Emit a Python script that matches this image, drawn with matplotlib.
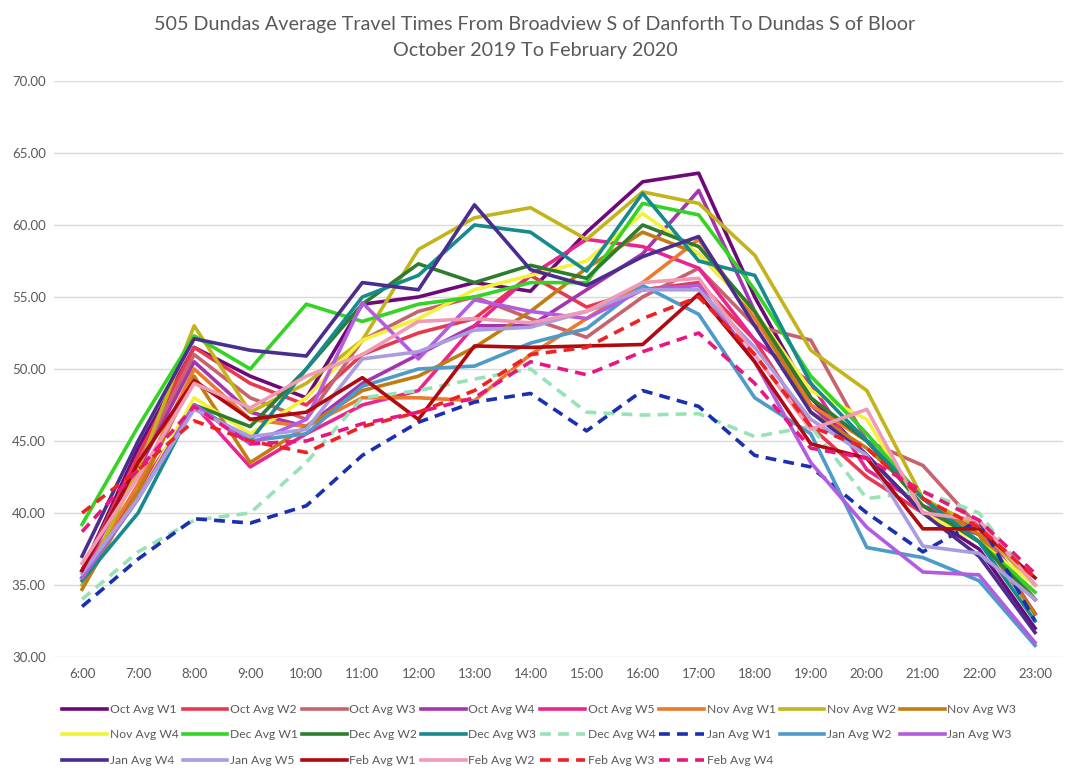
import matplotlib
matplotlib.use('Agg')
import matplotlib.pyplot as plt
import numpy as np

plt.rcParams['font.family'] = ['Lato', 'DejaVu Sans']

hours = ['6:00', '7:00', '8:00', '9:00', '10:00', '11:00', '12:00', '13:00', '14:00',
         '15:00', '16:00', '17:00', '18:00', '19:00', '20:00', '21:00', '22:00', '23:00']

# 每周平均行程时间（分钟）
oct_w1 = [36.0, 44.5, 51.5, 49.5, 48.0, 54.5, 55.0, 56.0, 55.4, 59.5, 63.0, 63.6, 55.0, 48.0, 44.0, 40.0, 37.5, 32.0]
oct_w2 = [36.0, 44.0, 51.5, 49.0, 47.5, 51.0, 52.5, 53.5, 56.5, 54.3, 55.5, 56.0, 52.0, 46.0, 42.5, 40.0, 39.0, 33.0]
oct_w3 = [36.0, 43.5, 51.0, 48.0, 46.5, 52.0, 54.0, 55.0, 53.5, 52.2, 55.0, 57.0, 53.0, 52.0, 45.0, 43.3, 39.0, 34.0]
oct_w4 = [36.0, 43.0, 50.5, 47.0, 46.0, 49.0, 51.0, 53.0, 53.0, 55.5, 58.0, 62.4, 54.0, 47.5, 44.0, 40.0, 38.5, 33.0]
oct_w5 = [36.0, 41.5, 47.5, 43.2, 45.5, 47.5, 48.5, 53.0, 56.5, 59.0, 58.5, 57.0, 52.0, 49.0, 43.0, 40.5, 39.0, 35.0]
nov_w1 = [35.5, 42.0, 50.0, 46.5, 46.0, 48.0, 48.0, 47.8, 51.0, 53.5, 56.0, 59.0, 53.5, 47.5, 45.0, 41.0, 38.5, 34.0]
nov_w2 = [35.0, 43.0, 53.0, 47.0, 49.0, 52.0, 58.3, 60.5, 61.2, 59.0, 62.3, 61.5, 57.9, 51.3, 48.5, 41.0, 39.0, 35.0]
nov_w3 = [34.7, 41.5, 49.5, 43.5, 46.0, 48.5, 49.5, 51.5, 54.0, 57.0, 59.5, 58.0, 54.0, 47.0, 44.5, 41.0, 38.5, 33.0]
nov_w4 = [35.5, 41.0, 48.0, 45.5, 48.0, 52.0, 53.5, 55.5, 56.5, 57.5, 60.8, 58.0, 54.0, 48.5, 46.5, 40.0, 38.0, 35.0]
dec_w1 = [39.2, 46.0, 52.3, 50.0, 54.5, 53.3, 54.5, 55.0, 56.0, 56.0, 61.5, 60.7, 55.5, 49.5, 45.5, 41.0, 38.0, 34.5]
dec_w2 = [35.5, 41.0, 47.5, 46.0, 50.0, 54.5, 57.3, 56.0, 57.2, 56.3, 60.0, 58.5, 54.0, 48.0, 45.0, 40.5, 38.0, 34.0]
dec_w3 = [35.3, 40.0, 47.5, 45.0, 50.0, 55.0, 56.5, 60.0, 59.5, 56.8, 62.2, 57.5, 56.5, 49.0, 45.0, 41.0, 38.0, 32.5]
dec_w4 = [34.0, 37.3, 39.5, 40.0, 43.5, 48.0, 48.5, 49.3, 50.0, 47.0, 46.8, 46.9, 45.3, 46.0, 41.0, 41.5, 40.0, 35.0]
jan_w1 = [33.5, 36.8, 39.6, 39.3, 40.5, 44.0, 46.3, 47.7, 48.3, 45.7, 48.5, 47.4, 44.0, 43.2, 40.0, 37.3, 39.5, 32.5]
jan_w2 = [35.5, 41.0, 47.5, 45.0, 45.5, 48.8, 50.0, 50.2, 51.8, 52.8, 55.8, 53.8, 48.0, 45.5, 37.6, 36.9, 35.3, 30.8]
jan_w3 = [35.5, 41.0, 47.5, 44.8, 46.5, 54.6, 50.7, 54.8, 54.0, 53.5, 55.5, 55.8, 50.5, 43.5, 39.0, 35.9, 35.7, 31.0]
jan_w4 = [37.0, 45.0, 52.1, 51.3, 50.9, 56.0, 55.5, 61.4, 56.9, 55.8, 57.8, 59.2, 53.0, 47.0, 44.0, 40.0, 37.0, 31.7]
jan_w5 = [35.8, 41.0, 47.2, 45.3, 45.8, 50.7, 51.2, 52.7, 52.9, 54.0, 55.5, 55.5, 51.5, 46.5, 44.0, 37.7, 37.2, 34.0]
feb_w1 = [36.0, 43.5, 49.2, 46.5, 47.0, 49.4, 46.5, 51.6, 51.5, 51.6, 51.7, 55.2, 50.5, 44.8, 43.8, 38.9, 38.9, 35.5]
feb_w2 = [36.5, 42.5, 49.0, 47.3, 49.5, 51.0, 53.3, 53.5, 53.2, 54.0, 56.0, 56.3, 51.0, 45.8, 47.2, 40.0, 39.5, 35.0]
feb_w3 = [40.0, 43.0, 46.4, 45.0, 44.2, 46.0, 47.0, 48.5, 51.0, 51.5, 53.5, 55.0, 51.0, 46.0, 44.5, 41.0, 39.0, 35.5]
feb_w4 = [38.7, 43.0, 47.4, 44.8, 45.0, 46.2, 47.0, 48.0, 50.5, 49.6, 51.2, 52.5, 49.0, 44.5, 43.8, 41.5, 39.5, 35.8]

series = [
    ('Oct Avg W1', oct_w1, '#6E0A78', '-'),
    ('Oct Avg W2', oct_w2, '#E8384F', '-'),
    ('Oct Avg W3', oct_w3, '#C8626E', '-'),
    ('Oct Avg W4', oct_w4, '#A535AF', '-'),
    ('Oct Avg W5', oct_w5, '#E9268F', '-'),
    ('Nov Avg W1', nov_w1, '#EB7A2B', '-'),
    ('Nov Avg W2', nov_w2, '#C4B41C', '-'),
    ('Nov Avg W3', nov_w3, '#C17D11', '-'),
    ('Nov Avg W4', nov_w4, '#F2F23A', '-'),
    ('Dec Avg W1', dec_w1, '#34D324', '-'),
    ('Dec Avg W2', dec_w2, '#2D7D2E', '-'),
    ('Dec Avg W3', dec_w3, '#168A8C', '-'),
    ('Dec Avg W4', dec_w4, '#98E3B5', '--'),
    ('Jan Avg W1', jan_w1, '#1A30B0', '--'),
    ('Jan Avg W2', jan_w2, '#4E9AC9', '-'),
    ('Jan Avg W3', jan_w3, '#B45CE0', '-'),
    ('Jan Avg W4', jan_w4, '#4A2D8E', '-'),
    ('Jan Avg W5', jan_w5, '#AA9CDF', '-'),
    ('Feb Avg W1', feb_w1, '#B00A10', '-'),
    ('Feb Avg W2', feb_w2, '#EF9AB6', '-'),
    ('Feb Avg W3', feb_w3, '#EE2222', '--'),
    ('Feb Avg W4', feb_w4, '#E8177F', '--'),
]

fig = plt.figure(figsize=(10.7, 7.81), dpi=100)
ax = fig.add_axes([0.0505, 0.1588, 0.943, 0.7375])

x = np.arange(len(hours))
handles = []
for name, vals, color, ls in series:
    if ls == '--':
        ln, = ax.plot(x, vals, color=color, lw=2.6, label=name, dashes=(3, 2))
    else:
        ln, = ax.plot(x, vals, color=color, lw=2.6, label=name)
    handles.append(ln)

ax.set_xlim(-0.5, len(hours) - 0.5)
ax.set_ylim(30, 70)
ax.set_yticks(np.arange(30, 71, 5))
ax.set_yticklabels([f'{v:.2f}' for v in np.arange(30, 71, 5)])
ax.set_xticks(x)
ax.set_xticklabels(hours)
ax.tick_params(axis='both', length=0, labelsize=9.5, colors='#595959')
ax.tick_params(axis='x', pad=8)
ax.tick_params(axis='y', pad=6)
ax.grid(True, axis='y', color='#D9D9D9', lw=1)
ax.set_axisbelow(True)
for s in ax.spines.values():
    s.set_visible(False)

fig.text(0.5, 0.968, '505 Dundas Average Travel Times From Broadview S of Danforth To Dundas S of Bloor',
         ha='center', va='center', fontsize=14.2, color='#595959')
fig.text(0.5, 0.935, 'October 2019 To February 2020',
         ha='center', va='center', fontsize=14.2, color='#595959')

# 图例按行排列（8列）
ncol = 8
order = []
for c in range(ncol):
    for r in range(3):
        i = r * ncol + c
        if i < len(handles):
            order.append(i)
leg = fig.legend([handles[i] for i in order], [series[i][0] for i in order],
                 loc='center', bbox_to_anchor=(0.504, 0.059), ncol=ncol, frameon=False,
                 fontsize=8.7, handlelength=3.7, handletextpad=0.2, columnspacing=0.35,
                 labelspacing=1.2, labelcolor='#595959')

plt.savefig('out.png', dpi=100)
